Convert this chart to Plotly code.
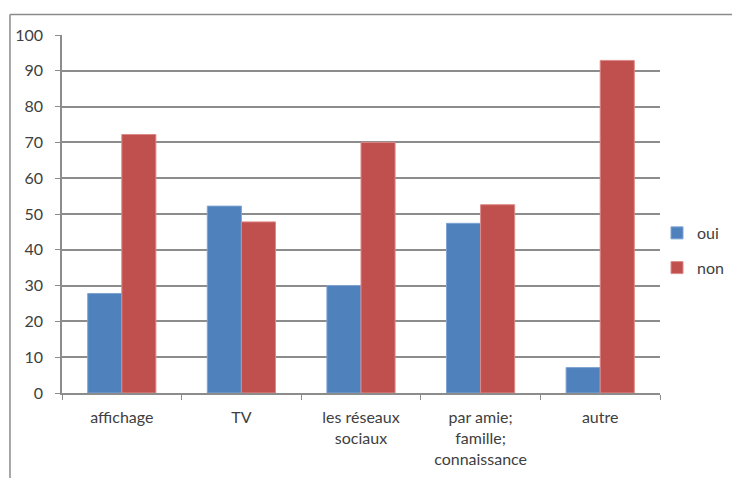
import plotly.graph_objects as go

categories = ["affichage", "TV", "les réseaux<br>sociaux", "par amie;<br>famille;<br>connaissance", "autre"]
oui = [27.8, 52.2, 30.0, 47.4, 7.1]
non = [72.2, 47.8, 70.0, 52.6, 92.9]
y_ticks = [0, 10, 20, 30, 40, 50, 60, 70, 80, 90, 100]

FONT = "Lato, Carlito, sans-serif"
TXT = "#404040"
GRID = "#8c8c8c"

fig = go.Figure()
fig.add_trace(go.Bar(name="oui", x=categories, y=oui,
                     marker=dict(color="#4F81BD", line=dict(color="#7fa3d3", width=1)),
                     legend="legend", showlegend=True))
fig.add_trace(go.Bar(name="non", x=categories, y=non,
                     marker=dict(color="#C0504D", line=dict(color="#dc8a88", width=1)),
                     legend="legend2", showlegend=True))

fig.update_layout(
    width=732, height=478,
    margin=dict(l=62, r=72, t=35, b=85, autoexpand=False),
    paper_bgcolor="white", plot_bgcolor="white",
    showlegend=True,
    barmode="group", bargap=0.43, bargroupgap=0,
    font=dict(family=FONT, size=15, color=TXT),
    legend=dict(x=0.995, y=0.447, xanchor="left", yanchor="middle",
                font=dict(size=16, color=TXT), bgcolor="rgba(0,0,0,0)",
                itemwidth=30),
    legend2=dict(x=0.995, y=0.35, xanchor="left", yanchor="middle",
                 font=dict(size=16, color=TXT), bgcolor="rgba(0,0,0,0)",
                 itemwidth=30),
    xaxis=dict(tickson="boundaries", ticks="outside", ticklen=5, tickcolor=GRID,
               showline=True, linecolor=GRID, linewidth=1.5,
               showgrid=False, ticklabelstandoff=9,
               tickfont=dict(size=16, color=TXT)),
    yaxis=dict(range=[0, 100], tickvals=y_ticks, ticks="outside", ticklen=5,
               tickcolor=GRID, showline=True, linecolor=GRID, linewidth=1.5,
               showgrid=True, gridcolor=GRID, gridwidth=1.5, zeroline=False,
               ticklabelstandoff=9, tickfont=dict(size=16, color=TXT)),
    shapes=[
        dict(type="line", xref="paper", yref="paper", x0=-0.087, x1=1.2,
             y0=1.0575, y1=1.0575, line=dict(color="#8a8a8a", width=1.5)),
        dict(type="line", xref="paper", yref="paper", x0=-0.087, x1=-0.087,
             y0=1.0575, y1=-0.25, line=dict(color="#8a8a8a", width=1.5)),
    ],
)

fig.write_html("out.html")
